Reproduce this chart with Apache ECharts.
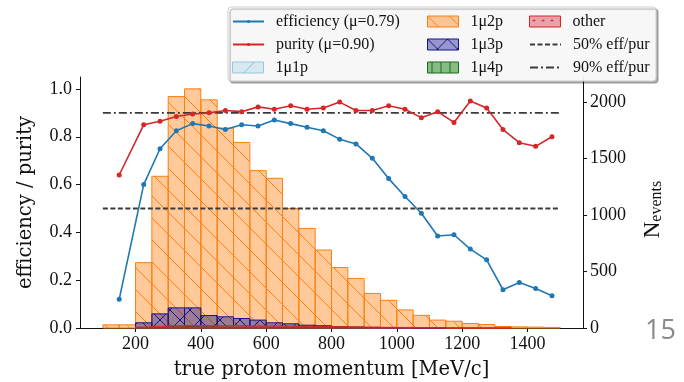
<!DOCTYPE html>
<html>
<head>
<meta charset="utf-8">
<script src="https://cdn.jsdelivr.net/npm/echarts@6/dist/echarts.min.js"></script>
<style>
  html, body { margin: 0; background: #fff; }
  #chart { width: 684px; height: 382px; }
</style>
</head>
<body>
<div id="chart"></div>
<script>
  // histogram bins (left edge, MeV/c), each 50 wide
  const binLeft = [100, 150, 200, 250, 300, 350, 400, 450, 500, 550, 600, 650, 700, 750,
    800, 850, 900, 950, 1000, 1050, 1100, 1150, 1200, 1250, 1300, 1350, 1400, 1450];
  const binWidth = 50;

  const n1mu1p = [0, 0, 3, 5, 6, 6, 5, 5, 4, 4, 3, 3, 2, 2, 2, 1, 1, 1, 1, 0, 0, 0, 0, 0, 0, 0, 0, 0];
  const n1mu2p = [28, 28, 578, 1342, 2047, 2115, 2018, 1768, 1641, 1392, 1324, 1057, 881, 690,
    535, 438, 306, 245, 160, 112, 70, 60, 40, 31, 13, 10, 8, 5];
  const n1mu3p = [0, 0, 46, 125, 178, 178, 110, 99, 84, 70, 46, 37, 25, 20, 12, 8, 5, 3, 2, 1, 1, 0, 0, 0, 0, 0, 0, 0];
  const n1mu4p = [0, 0, 2, 5, 10, 12, 10, 8, 6, 5, 4, 3, 2, 2, 1, 1, 0, 0, 0, 0, 0, 0, 0, 0, 0, 0, 0, 0];
  const nOther = [0, 0, 8, 15, 20, 22, 22, 20, 20, 18, 18, 16, 15, 14, 12, 10, 8, 6, 5, 4, 3, 2, 2, 1, 1, 0, 0, 0];

  // efficiency / purity points
  const momentum = [150, 225, 275, 325, 375, 425, 475, 525, 575, 625, 675, 725, 775, 825,
    875, 925, 975, 1025, 1075, 1125, 1175, 1225, 1275, 1325, 1375, 1425, 1475];
  const efficiency = [0.12, 0.60, 0.75, 0.825, 0.855, 0.845, 0.83, 0.85, 0.845, 0.87, 0.855, 0.84, 0.825, 0.79,
    0.77, 0.71, 0.625, 0.55, 0.48, 0.385, 0.39, 0.33, 0.285, 0.16, 0.19, 0.165, 0.135];
  const purity = [0.64, 0.85, 0.865, 0.885, 0.895, 0.90, 0.91, 0.905, 0.925, 0.915, 0.93, 0.915, 0.92, 0.945,
    0.91, 0.91, 0.93, 0.915, 0.88, 0.905, 0.86, 0.95, 0.92, 0.83, 0.775, 0.76, 0.80];

  const refRange = [100, 1500];
  const xTicks = [200, 400, 600, 800, 1000, 1200, 1400];
  const effTicks = [0, 0.2, 0.4, 0.6, 0.8, 1.0];
  const countTicks = [0, 500, 1000, 1500, 2000];

  const SERIF = "'Liberation Serif', 'DejaVu Serif', serif";
  const WIDE_SERIF = "'DejaVu Serif', 'Liberation Serif', serif";

  function hatch(bg, ink, kind, size) {
    const c = document.createElement('canvas');
    c.width = size; c.height = size;
    const g = c.getContext('2d');
    g.fillStyle = bg;
    g.fillRect(0, 0, size, size);
    g.strokeStyle = ink;
    g.fillStyle = ink;
    g.lineWidth = 1;
    g.beginPath();
    for (let k = -1; k <= 1; k++) {
      if (kind === 'back' || kind === 'x') {
        g.moveTo(k * size, 0); g.lineTo(k * size + size, size);
      }
      if (kind === 'fwd' || kind === 'x') {
        g.moveTo(k * size, size); g.lineTo(k * size + size, 0);
      }
    }
    if (kind === 'vert') {
      g.moveTo(size / 2, 0); g.lineTo(size / 2, size);
    }
    g.stroke();
    if (kind === 'dot') {
      g.beginPath();
      g.arc(size / 2, size / 2, 1.1, 0, Math.PI * 2);
      g.fill();
    }
    return { image: c, repeat: 'repeat' };
  }

  const styles = {
    '1μ1p': { fill: hatch('rgba(173,216,230,0.45)', 'rgba(120,180,210,0.8)', 'fwd', 22), edge: 'rgba(140,195,220,0.9)' },
    '1μ2p': { fill: hatch('rgba(255,127,14,0.42)', '#ff7f0e', 'back', 22), edge: '#ff7f0e' },
    '1μ3p': { fill: hatch('rgba(20,20,140,0.42)', '#14148c', 'x', 20), edge: '#14148c' },
    '1μ4p': { fill: hatch('rgba(20,130,20,0.5)', '#1a6b1a', 'vert', 9), edge: '#1a6b1a' },
    'other': { fill: hatch('rgba(220,30,50,0.4)', '#c0182a', 'dot', 9), edge: '#d62728' }
  };

  function histSeries(name, counts) {
    const st = styles[name];
    return {
      name: name,
      type: 'custom',
      yAxisIndex: 1,
      z: 2,
      itemStyle: { color: st.fill, borderColor: st.edge, borderWidth: 1 },
      encode: { x: [0, 1], y: 2 },
      data: binLeft.map((x, i) => [x, x + binWidth, counts[i]]),
      renderItem: function (params, api) {
        const v = api.value(2);
        if (!v) return null;
        const p0 = api.coord([api.value(0), 0]);
        const p1 = api.coord([api.value(1), v]);
        return {
          type: 'rect',
          shape: { x: p0[0], y: p1[1], width: p1[0] - p0[0], height: p0[1] - p1[1] },
          style: { fill: st.fill, stroke: st.edge, lineWidth: 1 }
        };
      }
    };
  }

  const ROW1 = 13.5, ROW3 = 59.5;

  function legendBlock(left, top, itemHeight, data) {
    return {
      orient: 'vertical',
      left: left,
      top: top,
      padding: 0,
      itemWidth: 31,
      itemHeight: itemHeight,
      itemGap: 7,
      selectedMode: false,
      z: 6,
      textStyle: { fontFamily: SERIF, fontSize: 16, color: '#111', lineHeight: 16, padding: [0, 0, 0, 7] },
      data: data
    };
  }

  function patchItem(name) {
    const st = styles[name];
    return { name: name, icon: 'rect', itemStyle: { color: st.fill, borderColor: st.edge, borderWidth: 1 } };
  }

  const chart = echarts.init(document.getElementById('chart'));
  chart.setOption({
    animation: false,
    backgroundColor: '#fff',
    grid: { left: 80, right: 101, top: 77, bottom: 54, outerBoundsMode: 'none' },
    legend: [
      legendBlock(232, ROW1, 4, ['efficiency (μ=0.79)', 'purity (μ=0.90)']),
      legendBlock(232, ROW3, 11, [patchItem('1μ1p')]),
      legendBlock(427, ROW1, 11, [patchItem('1μ2p'), patchItem('1μ3p'), patchItem('1μ4p')]),
      legendBlock(529, ROW1, 11, [patchItem('other')]),
      legendBlock(529, ROW1 + 23, 4, [
        { name: '50% eff/pur', itemStyle: { opacity: 0 } },
        { name: '90% eff/pur', itemStyle: { opacity: 0 } }
      ])
    ],
    graphic: [
      {
        type: 'rect', z: 5,
        shape: { x: 228, y: 7, width: 428, height: 74, r: 3 },
        style: { fill: 'rgba(255,255,255,0.9)', stroke: '#cfcfcf', lineWidth: 1,
          shadowColor: 'rgba(0,0,0,0.35)', shadowOffsetX: 2, shadowOffsetY: 2, shadowBlur: 1 }
      },
      {
        type: 'text', left: 645, top: 318,
        style: { text: '15', fontFamily: "'Open Sans', 'Noto Sans', sans-serif", fontSize: 27, fill: '#8a8a8a' }
      }
    ],
    xAxis: {
      type: 'value',
      min: 30,
      max: 1570,
      name: 'true proton momentum [MeV/c]',
      nameLocation: 'middle',
      nameGap: 32,
      nameTextStyle: { fontFamily: WIDE_SERIF, fontSize: 19.5, color: '#111' },
      axisLine: { show: true, onZero: false, lineStyle: { color: '#111', width: 1 } },
      axisTick: { show: true, length: 4, customValues: xTicks, lineStyle: { color: '#111' } },
      axisLabel: { customValues: xTicks, margin: 7, fontFamily: SERIF, fontSize: 18, color: '#111',
        formatter: (v) => String(v) },
      splitLine: { show: false }
    },
    yAxis: [
      {
        type: 'value',
        min: 0,
        max: 1.05,
        name: 'efficiency / purity',
        nameLocation: 'middle',
        nameGap: 44,
        nameTextStyle: { fontFamily: WIDE_SERIF, fontSize: 19.5, color: '#111' },
        axisLine: { show: true, lineStyle: { color: '#111', width: 1 } },
        axisTick: { show: true, length: 4, customValues: effTicks, lineStyle: { color: '#111' } },
        axisLabel: { customValues: effTicks, margin: 8, fontFamily: SERIF, fontSize: 18, color: '#111',
          formatter: (v) => v.toFixed(1) },
        splitLine: { show: false }
      },
      {
        type: 'value',
        position: 'right',
        min: 0,
        max: 2220,
        name: '{n|N}{s|events}',
        nameLocation: 'middle',
        nameGap: 42,
        nameTextStyle: {
          color: '#111',
          padding: [0, 14, 0, 0],
          rich: {
            n: { fontFamily: SERIF, fontSize: 23, lineHeight: 23, verticalAlign: 'top' },
            s: { fontFamily: SERIF, fontSize: 16, lineHeight: 16, verticalAlign: 'bottom', padding: [12, 0, 0, 0] }
          }
        },
        axisLine: { show: true, lineStyle: { color: '#111', width: 1 } },
        axisTick: { show: true, length: 4, customValues: countTicks, lineStyle: { color: '#111' } },
        axisLabel: { customValues: countTicks, margin: 7, fontFamily: SERIF, fontSize: 18, color: '#111',
          formatter: (v) => String(v) },
        splitLine: { show: false }
      }
    ],
    series: [
      histSeries('1μ1p', n1mu1p),
      histSeries('1μ2p', n1mu2p),
      histSeries('1μ3p', n1mu3p),
      histSeries('1μ4p', n1mu4p),
      histSeries('other', nOther),
      {
        name: '50% eff/pur',
        type: 'line',
        z: 3,
        symbol: 'none',
        data: refRange.map((x) => [x, 0.5]),
        lineStyle: { color: '#3a3a3a', width: 1.8, type: [5, 2.5] },
        itemStyle: { color: '#3a3a3a' }
      },
      {
        name: '90% eff/pur',
        type: 'line',
        z: 3,
        symbol: 'none',
        data: refRange.map((x) => [x, 0.9]),
        lineStyle: { color: '#3a3a3a', width: 1.8, type: [8, 3, 2, 3] },
        itemStyle: { color: '#3a3a3a' }
      },
      {
        name: 'efficiency (μ=0.79)',
        type: 'line',
        z: 4,
        symbol: 'circle',
        symbolSize: 5,
        data: momentum.map((x, i) => [x, efficiency[i]]),
        lineStyle: { color: '#1f77b4', width: 1.6 },
        itemStyle: { color: '#1f77b4' }
      },
      {
        name: 'purity (μ=0.90)',
        type: 'line',
        z: 4,
        symbol: 'circle',
        symbolSize: 5,
        data: momentum.map((x, i) => [x, purity[i]]),
        lineStyle: { color: '#d62728', width: 1.6 },
        itemStyle: { color: '#d62728' }
      }
    ]
  });
</script>
</body>
</html>
